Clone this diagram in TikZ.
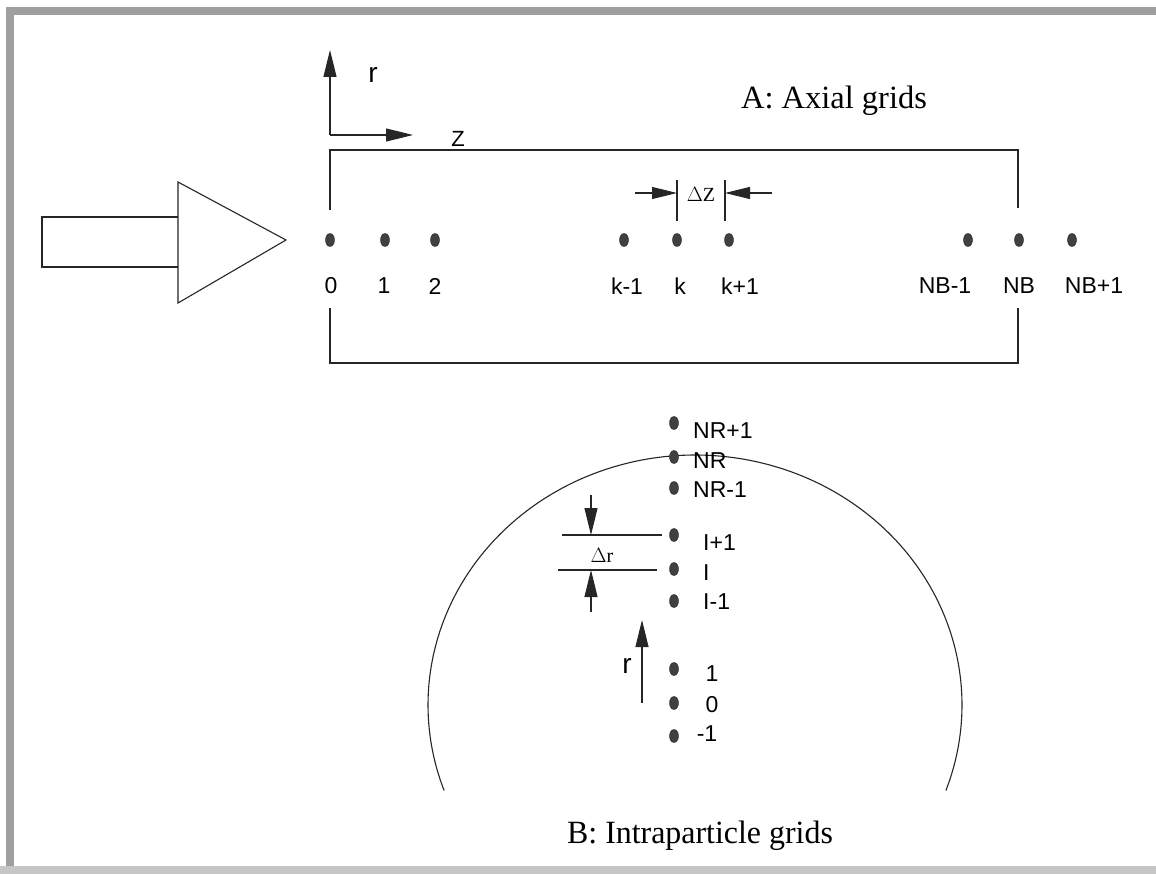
\documentclass[tikz,border=0pt]{standalone}
\usepackage{fontspec}
\setmainfont{Liberation Serif}
\setsansfont{Liberation Sans}
\usetikzlibrary{arrows.meta,shapes.geometric}
\begin{document}
\begin{tikzpicture}[x=1pt,y=-1pt,
  dot/.style={ellipse, fill=black!75, draw=black!85, line width=0.4pt,
    minimum width=9pt, minimum height=13pt, inner sep=0pt},
  idx/.style={font=\fontsize{23}{23}\sffamily, inner sep=0pt},
  ttl/.style={font=\fontsize{29}{29}\selectfont, inner sep=0pt},
  axl/.style={font=\fontsize{28}{28}\sffamily, inner sep=0pt},
  dlt/.style={font=\fontsize{20}{20}\selectfont, inner sep=0pt},
  ln/.style={line width=1.1pt, black!85},
  arr/.style={ln, -{Triangle[length=27pt,width=13pt]}},
  sarr/.style={ln, -{Triangle[length=25pt,width=12pt]}},
]
\useasboundingbox (0,0) rectangle (1156,874);
\fill[white] (0,0) rectangle (1156,874);
% frame bands
\fill[gray!75] (6,7) rectangle (14,874);
\fill[gray!75] (6,7) rectangle (1156,15);
\fill[gray!45] (0,866) rectangle (1156,874);

% inflow block arrow
\draw[ln] (178,217) -- (42,217) -- (42,267) -- (178,267);
\draw[ln] (178,182) -- (286,240) -- (178,303) -- cycle;

% axes
\coordinate (O) at (330,135);
\coordinate (rtip) at (330,50);
\coordinate (ztip) at (413,135);
\draw[arr] (O) -- (rtip);
\draw[arr] (O) -- (ztip);
\node[axl] (rlab) at (373,75) {r};
\node[axl, font=\fontsize{22}{22}\sffamily] (zlab) at (458,139) {Z};

% title A
\node[ttl] (titleA) at (834,101) {\scalebox{1.12}[1.12]{A: Axial grids}};

% bracket
\coordinate (b1) at (330,210); \coordinate (b2) at (330,150);
\coordinate (b3) at (1018,150); \coordinate (b4) at (1018,208);
\coordinate (c1) at (330,308); \coordinate (c2) at (330,363);
\coordinate (c3) at (1018,363); \coordinate (c4) at (1018,308);
\draw[ln] (b1) -- (b2) -- (b3) -- (b4);
\draw[ln] (c1) -- (c2) -- (c3) -- (c4);

% axial dots and labels
\foreach \x/\lx/\n/\t in {330/331/d0/0, 385/384/d1/1, 435/435/d2/2,
  624/627/dkm/k-1, 677/680/dk/k, 729/740/dkp/k+1,
  968/945/dnbm/NB-1, 1019/1019/dnb/NB, 1072/1094/dnbp/NB+1}{
  \node[dot] (\n) at (\x,240) {};
  \node[idx] (\n l) at (\lx,286) {\t};
}

% Delta Z
\coordinate (z1a) at (677,180); \coordinate (z1b) at (677,221);
\coordinate (z2a) at (725,180); \coordinate (z2b) at (725,221);
\draw[ln] (z1a) -- (z1b);
\draw[ln] (z2a) -- (z2b);
\coordinate (zl) at (635,193); \coordinate (zli) at (677,193);
\coordinate (zr) at (772,193); \coordinate (zri) at (725,193);
\draw[sarr] (zl) -- (zli);
\draw[sarr] (zr) -- (zri);
\node[dlt] (dZ) at (701,194) {$\Delta$Z};

% particle
\draw[ln] plot[domain=160:380, samples=120, smooth] ({695+267*cos(\x)},{705+250*sin(\x)});

% radial dots
\foreach \y/\n in {423/rNp, 457/rN, 488/rNm, 535/rIp, 569/rI, 601/rIm, 669/r1, 703/r0, 736/rm}{
  \node[dot] (\n) at (674,\y) {};
}
\node[idx, anchor=west] (lNp) at (693,431) {NR+1};
\node[idx, anchor=west] (lN) at (693,461) {NR};
\node[idx, anchor=west] (lNm) at (693,490) {NR-1};
\node[idx, anchor=west] (lIp) at (703,543) {I+1};
\node[idx, anchor=west] (lI) at (703,573) {I};
\node[idx, anchor=west] (lIm) at (703,602) {I-1};
\node[idx] (l1) at (712,674) {1};
\node[idx] (l0) at (712,705) {0};
\node[idx] (lm) at (707,734) {-1};

% Delta r
\coordinate (h1a) at (562,535); \coordinate (h1b) at (662,535);
\coordinate (h2a) at (558,570); \coordinate (h2b) at (657,570);
\draw[ln] (h1a) -- (h1b);
\draw[ln] (h2a) -- (h2b);
\coordinate (ra) at (591,495); \coordinate (rai) at (591,535);
\coordinate (rb) at (591,612); \coordinate (rbi) at (591,570);
\draw[arr] (ra) -- (rai);
\draw[arr] (rb) -- (rbi);
\node[dlt] (dr) at (602,555) {$\Delta$r};

% r arrow
\coordinate (rr0) at (642,703); \coordinate (rr1) at (642,620);
\draw[arr] (rr0) -- (rr1);
\node[axl] (rlab2) at (627,666) {r};

% title B
\node[ttl] (titleB) at (700,836) {\scalebox{1.1}[1.12]{B: Intraparticle grids}};
\end{tikzpicture}
\end{document}
